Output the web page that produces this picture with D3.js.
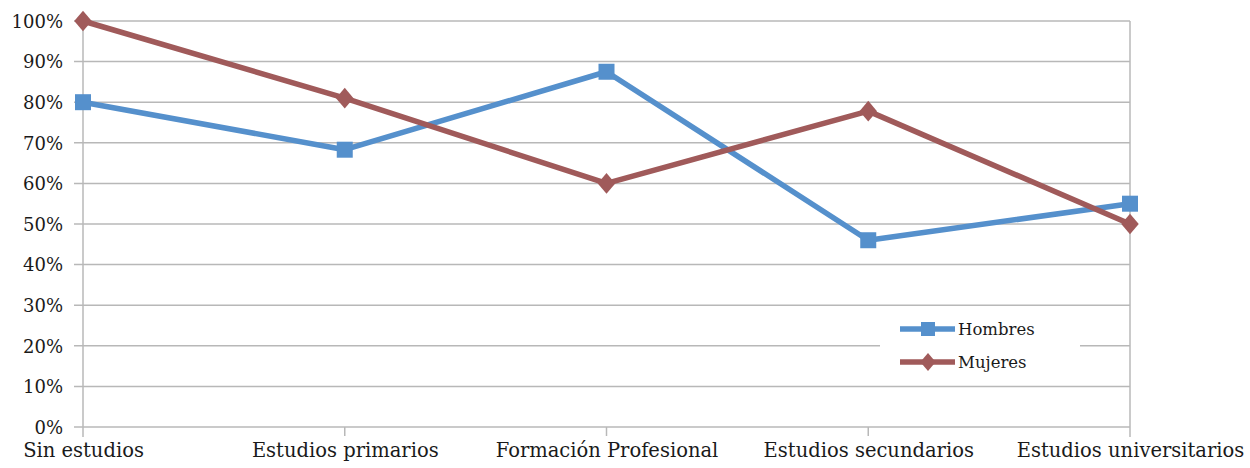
<!DOCTYPE html>
<html>
<head>
<meta charset="utf-8">
<script src="https://cdn.jsdelivr.net/npm/d3@7"></script>
<style>
  html, body { margin: 0; padding: 0; background: #fff; }
  svg { display: block; }
  text { font-family: "DejaVu Serif", "Liberation Serif", serif; fill: #1a1a1a; }
</style>
</head>
<body>
<svg id="chart" width="1250" height="468"></svg>
<script>
const categories = ["Sin estudios", "Estudios primarios", "Formación Profesional", "Estudios secundarios", "Estudios universitarios"];
const hombres = [0.80, 0.683, 0.875, 0.46, 0.55];
const mujeres = [1.00, 0.81, 0.60, 0.778, 0.50];
const yTicks = [0, 0.1, 0.2, 0.3, 0.4, 0.5, 0.6, 0.7, 0.8, 0.9, 1.0];
const seriesNames = ["Hombres", "Mujeres"];
const seriesColors = ["#5590CC", "#A05A5A"];

(function () {
const svg = d3.select("#chart");
const mLeft = 83, mRight = 1130, mTop = 21, mBottom = 427;

const x = d3.scalePoint().domain(categories).range([mLeft, mRight]);
const y = d3.scaleLinear().domain([0, 1]).range([mBottom, mTop]);

// gridlines
svg.append("g").selectAll("line").data(yTicks).join("line")
  .attr("x1", mLeft - 9).attr("x2", mRight)
  .attr("y1", d => y(d)).attr("y2", d => y(d))
  .attr("stroke", "#b8b8b8").attr("stroke-width", 1.5);

// axes lines
svg.append("line").attr("x1", mLeft).attr("x2", mLeft).attr("y1", mTop).attr("y2", mBottom + 10)
  .attr("stroke", "#b8b8b8").attr("stroke-width", 1.5);
svg.append("line").attr("x1", mRight).attr("x2", mRight).attr("y1", mTop).attr("y2", mBottom + 10)
  .attr("stroke", "#b8b8b8").attr("stroke-width", 1.5);
svg.append("g").selectAll("line").data(categories.slice(1, -1)).join("line")
  .attr("x1", d => x(d)).attr("x2", d => x(d))
  .attr("y1", mBottom).attr("y2", mBottom + 9)
  .attr("stroke", "#b8b8b8").attr("stroke-width", 1.5);

// y labels
const yAxis = d3.axisLeft(y).tickValues(yTicks).tickFormat(d3.format(".0%")).tickSize(0).tickPadding(0);
const ya = svg.append("g").attr("transform", `translate(${mLeft - 20},0)`).call(yAxis);
ya.select(".domain").remove();
ya.selectAll("text").attr("font-size", 18).attr("font-family", "DejaVu Serif, serif").attr("fill", "#1a1a1a").attr("dy", "0.35em");

// x labels
const xAxis = d3.axisBottom(x).tickSize(0).tickPadding(0);
const xa = svg.append("g").attr("transform", `translate(0,${mBottom + 14})`).call(xAxis);
xa.select(".domain").remove();
xa.selectAll("text").attr("font-size", 19.5).attr("font-family", "DejaVu Serif, serif").attr("fill", "#1a1a1a").attr("dy", "0.8em");

const line = d3.line().x((d, i) => x(categories[i])).y(d => y(d));

// Hombres
svg.append("path").datum(hombres).attr("d", line)
  .attr("fill", "none").attr("stroke", seriesColors[0]).attr("stroke-width", 5.5).attr("stroke-linejoin", "round");
svg.append("g").selectAll("rect").data(hombres).join("rect")
  .attr("x", (d, i) => x(categories[i]) - 8).attr("y", d => y(d) - 8)
  .attr("width", 16).attr("height", 16).attr("fill", seriesColors[0]);

// Mujeres
svg.append("path").datum(mujeres).attr("d", line)
  .attr("fill", "none").attr("stroke", seriesColors[1]).attr("stroke-width", 5.5).attr("stroke-linejoin", "round");
const diamond = d3.symbol().type(d3.symbolDiamond).size(170);
svg.append("g").selectAll("path").data(mujeres).join("path")
  .attr("d", diamond)
  .attr("transform", (d, i) => `translate(${x(categories[i])},${y(d)}) scale(1.25,0.85)`)
  .attr("fill", seriesColors[1]);

// legend
const lg = svg.append("g");
lg.append("rect").attr("x", 880).attr("y", 312).attr("width", 200).attr("height", 68).attr("fill", "#fff");
const legendData = seriesNames.map((n, i) => ({ n, c: seriesColors[i], yy: 329 + i * 33 }));
legendData.forEach((d, i) => {
  lg.append("line").attr("x1", 900).attr("x2", 955).attr("y1", d.yy).attr("y2", d.yy)
    .attr("stroke", d.c).attr("stroke-width", 5.5);
  if (i === 0) {
    lg.append("rect").attr("x", 921).attr("y", d.yy - 7).attr("width", 14).attr("height", 14).attr("fill", d.c);
  } else {
    lg.append("path").attr("d", d3.symbol().type(d3.symbolDiamond).size(130)())
      .attr("transform", `translate(928,${d.yy}) scale(1.25,0.85)`).attr("fill", d.c);
  }
  lg.append("text").attr("x", 958).attr("y", d.yy).attr("dy", "0.35em")
    .attr("font-size", 16.5).text(d.n);
});
})();
</script>
</body>
</html>
